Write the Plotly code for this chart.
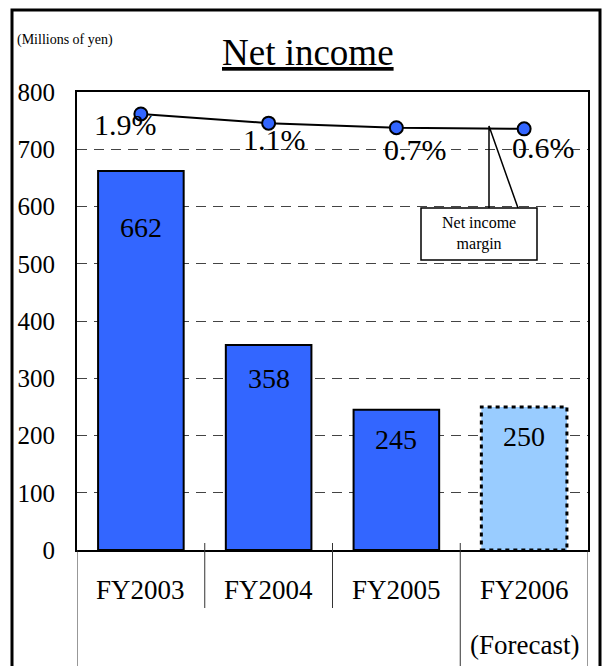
import plotly.graph_objects as go

categories = ["FY2003", "FY2004", "FY2005", "FY2006"]
sub_labels = ["", "", "", "(Forecast)"]
net_income = [662, 358, 245, 250]
margin_pct = [1.9, 1.1, 0.7, 0.6]
margin_text = ["1.9%", "1.1%", "0.7%", "0.6%"]
y_ticks = [0, 100, 200, 300, 400, 500, 600, 700, 800]

# styling / label placement (pixels)
bar_colors = ["#3366FF", "#3366FF", "#3366FF", "#99CCFF"]
bar_line_w = [2, 2, 2, 0]
bar_label_shift = [-56, -33, -30, -30]
pct_label_dx = [-15, 6, 19, 19]
pct_label_dy = [-11, -16, -22, -19]

FONT = "Liberation Serif"
W, H = 606, 666
L, R, T, B = 77, 18, 92, 116
pw, ph = W - L - R, H - T - B
bargap = 0.33
bw = 1 - bargap


def px(x):
    return (x - L) / pw


def py(y):
    return (H - B - y) / ph


xs = list(range(len(categories)))

fig = go.Figure()
fig.add_trace(go.Bar(
    x=xs, y=net_income,
    marker=dict(color=bar_colors, line=dict(color="black", width=bar_line_w)),
    hoverinfo="skip", showlegend=False,
))
fig.add_trace(go.Scatter(
    x=xs, y=margin_pct, yaxis="y2", mode="lines+markers",
    line=dict(color="black", width=2),
    marker=dict(size=13, color="#3366FF", line=dict(color="black", width=2)),
    showlegend=False, hoverinfo="skip",
))

shapes = []
# dotted border for forecast bar
i = 3
shapes.append(dict(type="rect", xref="x", yref="y", x0=i - bw / 2, x1=i + bw / 2,
                   y0=0, y1=net_income[i], line=dict(color="black", width=3, dash="4px,4px"),
                   layer="above"))
# category dividers below the axis
for k, xv in enumerate([x + 0.5 for x in xs[:-1]]):
    yb = py(608) if k < 2 else -0.3
    shapes.append(dict(type="line", xref="x", yref="paper", x0=xv, x1=xv,
                       y0=yb, y1=py(543), line=dict(color="#333", width=1)))
for xv in [-0.5, 3.5]:
    shapes.append(dict(type="line", xref="x", yref="paper", x0=xv, x1=xv,
                       y0=-0.3, y1=0, line=dict(color="#333", width=1)))
# outer frame
shapes.append(dict(type="rect", xref="paper", yref="paper", x0=px(12), x1=px(600),
                   y0=py(680), y1=py(10), line=dict(color="black", width=3)))
# callout
shapes.append(dict(type="path", xref="paper", yref="paper",
                   path=f"M {px(489)},{py(208)} L {px(489)},{py(126)} L {px(518)},{py(208)}",
                   line=dict(color="black", width=1.5)))
shapes.append(dict(type="rect", xref="paper", yref="paper", x0=px(421), x1=px(537),
                   y0=py(260), y1=py(208), line=dict(color="black", width=1.5),
                   fillcolor="white"))


def A(**kw):
    kw.setdefault("showarrow", False)
    kw.setdefault("xanchor", "center")
    kw.setdefault("yanchor", "middle")
    return kw


ann = []
for x, v, s in zip(xs, net_income, bar_label_shift):
    ann.append(A(x=x, y=v, xref="x", yref="y", text=str(v),
                 yshift=s, font=dict(family=FONT, size=28, color="black")))
for x, m, t, dx, dy in zip(xs, margin_pct, margin_text, pct_label_dx, pct_label_dy):
    ann.append(A(x=x, y=m, xref="x", yref="y2", text=t,
                 xshift=dx, yshift=dy, font=dict(family=FONT, size=30, color="black")))
for x, c, s in zip(xs, categories, sub_labels):
    ann.append(A(x=x, y=py(590), xref="x", yref="paper", text=c,
                 font=dict(family=FONT, size=27, color="black")))
    if s:
        ann.append(A(x=x, y=py(645), xref="x", yref="paper", text=s,
                     font=dict(family=FONT, size=27, color="black")))
ann.append(A(x=px(308), y=py(53), xref="paper", yref="paper", text="<u>Net income</u>",
             font=dict(family=FONT, size=37, color="black")))
ann.append(A(x=px(15), y=py(40), xref="paper", yref="paper", text="(Millions of yen)",
             xanchor="left", font=dict(family=FONT, size=14, color="black")))
ann.append(A(x=px(479), y=py(234), xref="paper", yref="paper", text="Net income<br>margin",
             font=dict(family=FONT, size=16, color="black")))

fig.update_layout(
    width=W, height=H, margin=dict(l=L, r=R, t=T, b=B),
    paper_bgcolor="white", plot_bgcolor="white",
    bargap=bargap,
    xaxis=dict(range=[-0.5, 3.5], showticklabels=False, showgrid=False, zeroline=False,
               showline=True, mirror=True, linecolor="black", linewidth=2, ticks=""),
    yaxis=dict(range=[0, 800], tickvals=y_ticks, showgrid=True, gridcolor="#444",
               gridwidth=1, griddash="10px,7px", zeroline=False, showline=True, mirror=True,
               linecolor="black", linewidth=2, ticks="", ticklabelstandoff=15,
               tickfont=dict(family=FONT, size=25, color="black")),
    yaxis2=dict(range=[-36.18, 3.82], overlaying="y", visible=False),
    shapes=shapes, annotations=ann,
    font=dict(family=FONT),
)
fig.write_html("out.html")
